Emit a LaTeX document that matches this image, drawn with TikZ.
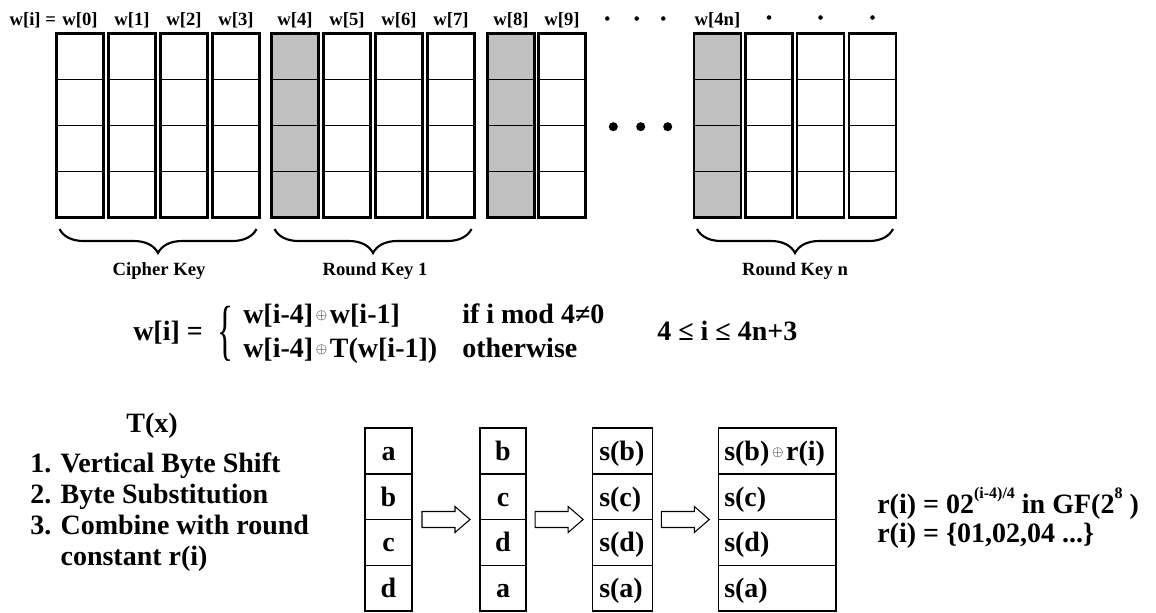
\documentclass[tikz,border=0pt]{standalone}
\usepackage{fontspec}
\setmainfont{Liberation Serif}
\usetikzlibrary{decorations.pathreplacing,calc}
\definecolor{keygray}{RGB}{192,192,192}
% small raised XOR sign used inside the formulas
\newcommand{\xorsym}{\kern2pt\raisebox{2.6pt}{\fontsize{10.5pt}{10.5pt}\selectfont$\oplus$}\kern2pt}
% raised small exponent
\newcommand{\supx}[1]{\raisebox{11pt}{\fontsize{12pt}{12pt}\selectfont\bfseries #1}}

\begin{document}
\begin{tikzpicture}[x=0.75pt,y=-0.75pt,
  lblfont/.style={font=\fontsize{14pt}{16pt}\selectfont\bfseries},
  bigfont/.style={font=\fontsize{21pt}{25pt}\selectfont\bfseries},
  cell/.style={draw, line width=1.4pt, inner sep=0pt, outer sep=0pt,
    minimum width=35.25pt, minimum height=34.5pt},
  colframe/.style={draw, line width=1.9pt, inner sep=0pt, outer sep=0pt,
    minimum width=35.25pt, minimum height=138pt},
  keybrace/.style={line width=1.6pt, decorate,
    decoration={brace, mirror, amplitude=18pt}},
  bigdot/.style={circle, fill, inner sep=0pt, minimum size=6.8pt},
  smalldot/.style={circle, fill, inner sep=0pt, minimum size=3.4pt},
  bcell/.style={draw, line width=1.1pt, inner sep=0pt, outer sep=0pt,
    minimum height=34.3pt},
  arrowline/.style={draw, line width=0.8pt, line join=miter},
  blockarrow/.pic={
    \path[arrowline] (-24,-8) -- (9,-8) -- (9,-13) -- (24,0) -- (9,13)
      -- (9,8) -- (-24,8) -- cycle;
  }
]
\useasboundingbox (0,0) rectangle (1156,612);

% ---------------- key schedule words ----------------
\node[lblfont, anchor=base west, inner sep=0pt] (wi) at (9.3,25.5) {w[i] =};

\foreach \n/\lx/\shade in {0/56.5/white, 1/108.5/white, 2/160.5/white, 3/212.5/white,
    4/271.5/keygray, 5/323.5/white, 6/375.5/white, 7/427.5/white,
    8/487.5/keygray, 9/538.5/white,
    A/694/keygray, B/745.5/white, C/797/white, D/849/white} {
  \foreach \r in {0,1,2,3}
    \node[cell, fill=\shade] (k\n-\r) at ({\lx+23.5},{56.5+46*\r}) {};
  \node[colframe] (col\n) at ({\lx+23.5},125.5) {};
}

% column headings
\foreach \n/\lab in {0/{w[0]},1/{w[1]},2/{w[2]},3/{w[3]},4/{w[4]},5/{w[5]},
    6/{w[6]},7/{w[7]},8/{w[8]},9/{w[9]},A/{w[4n]}}
  \node[lblfont, anchor=base, inner sep=0pt] (h\n) at ($(col\n.north)+(0,-8)$) {\lab};
\foreach \n in {B,C,D}
  \node[smalldot] (h\n) at ($(col\n.north)+(0,-16)$) {};

% ellipsis between the rounds
\node[smalldot] (tdot1) at (607.3,18.5) {};
\node[smalldot] (tdot2) at (636.7,18.5) {};
\node[smalldot] (tdot3) at (663.3,18.5) {};
\node[bigdot] (mdot1) at (613.3,126.7) {};
\node[bigdot] (mdot2) at (640.7,126.7) {};
\node[bigdot] (mdot3) at (667.7,126.7) {};

% braces and their captions
\draw[keybrace] ($(k0-3.south west)+(3,11.5)$) -- ($(k3-3.south east)+(-3,11.5)$);
\draw[keybrace] ($(k4-3.south west)+(3,11.5)$) -- ($(k7-3.south east)+(-3,11.5)$);
\draw[keybrace] ($(kA-3.south west)+(3,11.5)$) -- ($(kD-3.south east)+(-3,11.5)$);
\node[lblfont, anchor=base, inner sep=0pt] (ck) at (159,275) {Cipher Key};
\node[lblfont, anchor=base, inner sep=0pt] (rk1) at (375,275) {Round Key 1};
\node[lblfont, anchor=base, inner sep=0pt] (rkn) at (795,275) {Round Key n};

% ---------------- recurrence ----------------
\node[bigfont, anchor=base west, inner sep=0pt] (lhs) at (133,340) {w[i] =};
\node[inner sep=0pt] (cases) at (225,334)
  {\scalebox{0.5}[1]{\fontsize{50pt}{50pt}\selectfont\{}};
\node[bigfont, anchor=base west, inner sep=0pt] (case1) at (243,323) {w[i-4]\xorsym w[i-1]};
\node[bigfont, anchor=base west, inner sep=0pt] (case2) at (243,357) {w[i-4]\xorsym T(w[i-1])};
\node[bigfont, anchor=base west, inner sep=0pt] (cond1) at (462,323) {if i mod 4≠0};
\node[bigfont, anchor=base west, inner sep=0pt] (cond2) at (462,357) {otherwise};
\node[bigfont, anchor=base west, inner sep=0pt] (range) at (657,340) {4 ≤ i ≤ 4n+3};

% ---------------- T(x) ----------------
\node[bigfont, anchor=base, inner sep=0pt] (tx) at (152,432) {T(x)};
\node[bigfont, anchor=base west, inner sep=0pt] (st1) at (30,472) {1. Vertical Byte Shift};
\node[bigfont, anchor=base west, inner sep=0pt] (st2) at (30,503) {2. Byte Substitution};
\node[bigfont, anchor=base west, inner sep=0pt] (st3) at (30,534) {3. Combine with round};
\node[bigfont, anchor=base west, inner sep=0pt] (st4) at (30,565) {\hphantom{3. }constant r(i)};

\foreach \r/\ta/\tb/\tc/\td in {0/a/b/s(b)/{s(b)\xorsym r(i)}, 1/b/c/s(c)/s(c),
    2/c/d/s(d)/s(d), 3/d/a/s(a)/s(a)} {
  \node[bcell, minimum width=35.25pt] (p1-\r) at (388.5,{450.875+45.75*\r}) {};
  \node[bcell, minimum width=34.5pt] (p2-\r) at (503,{450.875+45.75*\r}) {};
  \node[bcell, minimum width=45pt] (p3-\r) at (622.3,{450.875+45.75*\r}) {};
  \node[bcell, minimum width=88.3pt] (p4-\r) at (777.15,{450.875+45.75*\r}) {};
  \node[bigfont, anchor=base, inner sep=0pt] (q1-\r) at (388.5,{460.4+45.75*\r}) {\ta};
  \node[bigfont, anchor=base, inner sep=0pt] (q2-\r) at (503,{460.4+45.75*\r}) {\tb};
  \node[bigfont, anchor=base west, inner sep=0pt] (q3-\r) at (599,{460.4+45.75*\r}) {\tc};
  \node[bigfont, anchor=base west, inner sep=0pt] (q4-\r) at (724,{460.4+45.75*\r}) {\td};
}

% transition arrows between the columns
\path ($(p1-1.south east)!0.5!(p2-1.south west)$) pic {blockarrow};
\path ($(p2-1.south east)!0.5!(p3-1.south west)$) pic {blockarrow};
\path ($(p3-1.south east)!0.5!(p4-1.south west)$) pic {blockarrow};

% round constant
\node[bigfont, anchor=base west, inner sep=0pt] (rc1) at (877,513)
  {r(i) = 02\supx{(i-4)/4} in GF(2\supx{8} )};
\node[bigfont, anchor=base west, inner sep=0pt] (rc2) at (877,542)
  {r(i) = \{01,02,04 ...\}};
\end{tikzpicture}
\end{document}
